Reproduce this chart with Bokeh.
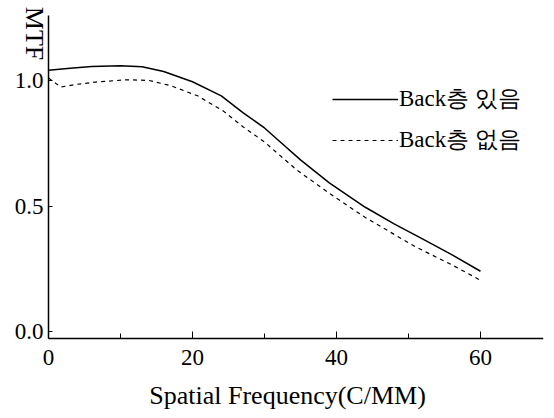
from bokeh.plotting import figure
from bokeh.models import FixedTicker, Legend, LegendItem, Label, Range1d
from bokeh.embed import file_html
from bokeh.resources import INLINE
import math

# MTF curves vs spatial frequency (cycles/mm)
freq_with = [0, 3, 6, 10, 13, 16, 20, 24, 27, 30, 32, 35, 39, 44, 48, 52, 56, 60]
mtf_with = [1.041, 1.049, 1.056, 1.059, 1.055, 1.036, 0.995, 0.939, 0.872, 0.811,
            0.760, 0.684, 0.592, 0.495, 0.429, 0.368, 0.306, 0.240]

freq_without = [0, 1.7, 4, 7, 11, 14, 17, 20.7, 24.3, 27, 30, 34.5, 39, 44, 51, 56, 60]
mtf_without = [1.010, 0.974, 0.985, 0.995, 1.003, 1.0, 0.979, 0.939, 0.878, 0.816,
               0.755, 0.643, 0.551, 0.454, 0.337, 0.266, 0.204]

series_names = ["Back층 있음", "Back층 없음"]
x_ticks = [0, 20, 40, 60]
x_minor = [10, 30, 50]
y_ticks = [0, 0.5, 1.0]
y_tick_labels = ["0.0", "0.5", "1.0"]
x_title = "Spatial Frequency(C/MM)"
y_title = "MTF"

X_MAX = 68.75
Y_TOP = 1.26
X_AXIS_AT = -0.028  # baseline drawn a hair below zero

PX_X = 7.2    # pixels per cycle/mm
PX_Y = 251.0  # pixels per MTF unit
FONT = "serif"

# the frame covers the whole canvas; both axes are pinned inside it
p = figure(width=554, height=418, output_backend="svg", toolbar_location=None,
           x_range=Range1d(-48 / PX_X, X_MAX),
           y_range=Range1d(-(418 - 331) / PX_Y, 331 / PX_Y),
           min_border_left=0, min_border_right=11, min_border_top=0,
           min_border_bottom=0)
p.frame_width = 543
p.frame_height = 418
p.outline_line_color = None
p.xgrid.visible = False
p.ygrid.visible = False

l1 = p.line(freq_with, mtf_with, line_color="black", line_width=1.5)
l2 = p.line(freq_without, mtf_without, line_color="black", line_width=1.2,
            line_dash="4 4")

# x axis
xa = p.xaxis[0]
xa.fixed_location = X_AXIS_AT
xa.bounds = (0, X_MAX)
xa.ticker = FixedTicker(ticks=x_ticks, minor_ticks=x_minor)
xa.major_tick_in = 7
xa.major_tick_out = 0
xa.minor_tick_in = 5
xa.minor_tick_out = 0
xa.axis_line_width = 1.5
xa.major_label_text_font = FONT
xa.major_label_text_font_size = "23px"
xa.major_label_text_color = "black"
xa.major_label_standoff = 11

# y axis
ya = p.yaxis[0]
ya.fixed_location = 0
ya.bounds = (X_AXIS_AT, Y_TOP)
ya.ticker = FixedTicker(ticks=y_ticks)
ya.major_label_overrides = {t: s for t, s in zip(y_ticks, y_tick_labels)}
ya.major_tick_in = 4
ya.major_tick_out = 0
ya.minor_tick_in = 0
ya.minor_tick_out = 0
ya.axis_line_width = 1.5
ya.major_label_text_font = FONT
ya.major_label_text_font_size = "23px"
ya.major_label_text_color = "black"
ya.major_label_standoff = 5

# axis titles
p.add_layout(Label(x=33.2, y=-0.255, text=x_title,
                   text_font=FONT, text_font_size="26px",
                   text_align="center", text_baseline="middle",
                   text_color="black"))
p.add_layout(Label(x=-1.95, y=1.187, text=y_title, angle=-math.pi / 2,
                   text_font=FONT, text_font_size="26px",
                   text_align="center", text_baseline="middle",
                   text_color="black"))

legend = Legend(items=[LegendItem(label=series_names[0], renderers=[l1]),
                       LegendItem(label=series_names[1], renderers=[l2])],
                location=(332, 263), orientation="vertical",
                glyph_width=66, glyph_height=20, label_height=20,
                label_standoff=1, spacing=10, padding=0, margin=0,
                border_line_color=None, background_fill_alpha=0,
                label_text_font=FONT, label_text_font_size="23px",
                label_text_color="black")
p.add_layout(legend)

open("out.html", "w").write(file_html(p, INLINE))
